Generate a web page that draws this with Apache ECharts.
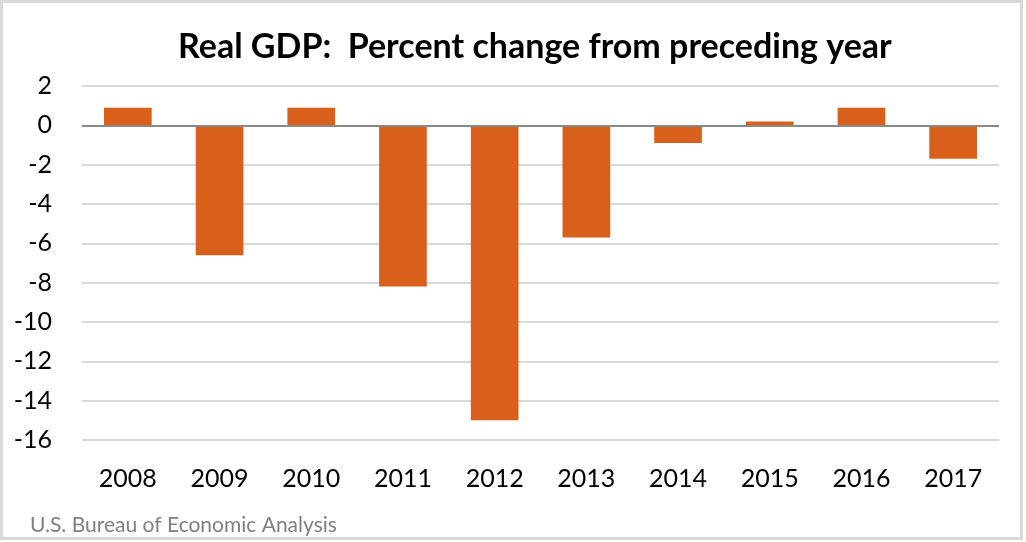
<!DOCTYPE html>
<html>
<head>
<meta charset="utf-8">
<script src="https://cdn.jsdelivr.net/npm/echarts@6/dist/echarts.min.js"></script>
<style>
html,body{margin:0;padding:0;background:#fff;}
#c{width:1026px;height:542px;}
</style>
</head>
<body>
<div id="c"></div>
<script>
var years = ['2008','2009','2010','2011','2012','2013','2014','2015','2016','2017'];
var pctChange = [0.9, -6.6, 0.9, -8.2, -15.0, -5.7, -0.9, 0.2, 0.9, -1.7];
var titleText = 'Real GDP:  Percent change from preceding year';
var sourceText = 'U.S. Bureau of Economic Analysis';

var chart = echarts.init(document.getElementById('c'));
chart.setOption({
  animation: false,
  backgroundColor: '#fff',
  title: {
    text: titleText,
    left: 173,
    top: 25,
    textStyle: {fontFamily: 'Lato', fontWeight: 'bold', fontSize: 34, color: '#000'}
  },
  grid: {left: 82, right: 27, top: 86, bottom: 102, containLabel: false},
  xAxis: {
    type: 'category',
    data: years,
    axisLine: {show: false},
    axisTick: {show: false},
    axisLabel: {fontFamily: 'Lato', fontSize: 25, color: '#000', margin: 26}
  },
  yAxis: {
    type: 'value',
    min: -16, max: 2, interval: 2,
    axisLine: {show: false},
    axisTick: {show: false},
    axisLabel: {fontFamily: 'Lato', fontSize: 25, color: '#000', margin: 30},
    splitLine: {lineStyle: {color: '#d9d9d9', width: 2}}
  },
  series: [{
    type: 'bar',
    data: pctChange,
    barWidth: '52%',
    itemStyle: {color: '#d9601a'},
    markLine: {
      silent: true,
      symbol: 'none',
      label: {show: false},
      lineStyle: {color: '#898989', width: 2, type: 'solid'},
      data: [{yAxis: 0}]
    }
  }],
  graphic: [
    {type: 'rect', shape: {x: 1.5, y: 1.5, width: 1020, height: 537}, style: {fill: 'none', stroke: '#d9d9d9', lineWidth: 3}, silent: true},
    {type: 'text', left: 30, top: 515, style: {text: sourceText, fontFamily: 'Lato', fontSize: 21, fill: '#7f7f7f'}}
  ]
});
</script>
</body>
</html>
